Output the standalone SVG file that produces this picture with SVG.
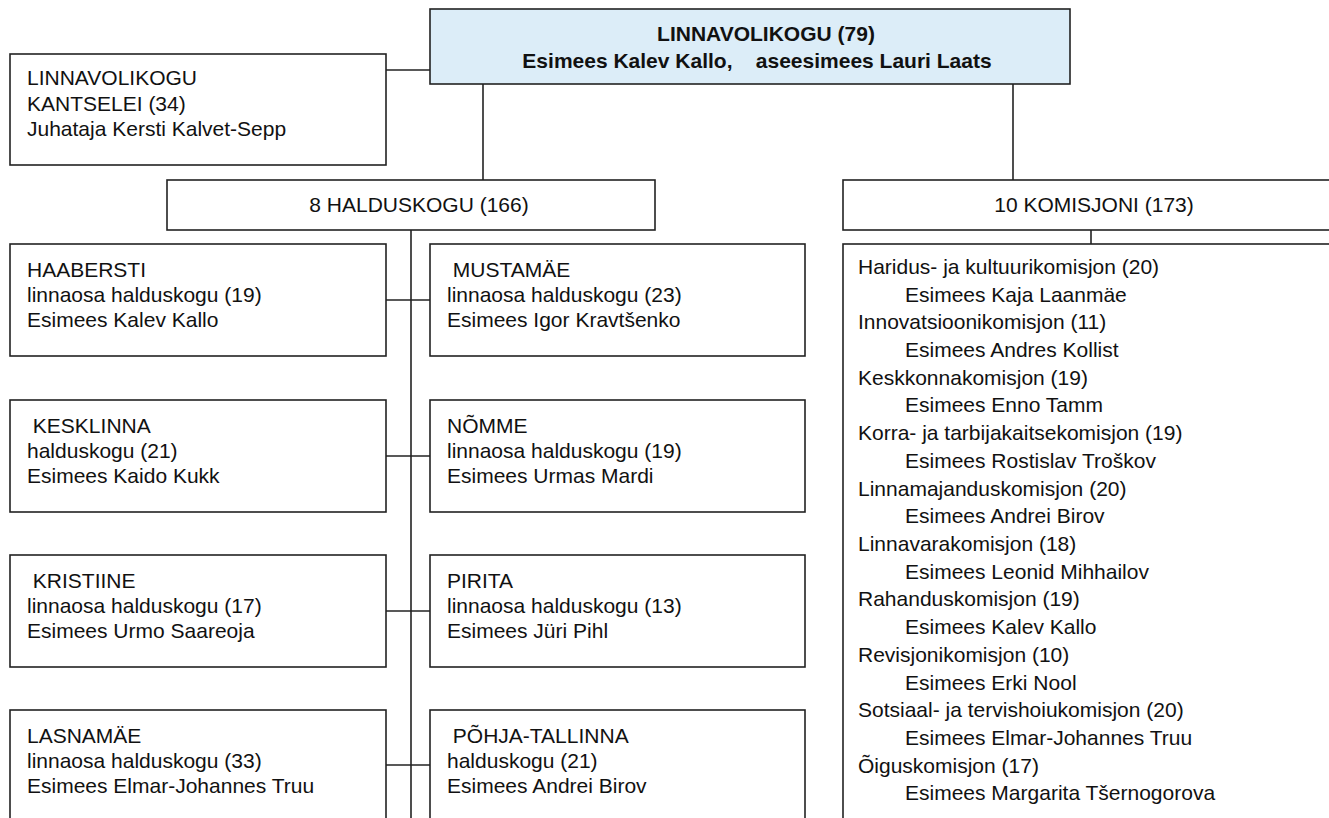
<svg xmlns="http://www.w3.org/2000/svg" width="1329" height="818" viewBox="0 0 1329 818">
<style>
.box{fill:#fff;stroke:#222;stroke-width:1.6}
.top{fill:#dcedf8;stroke:#222;stroke-width:1.6}
.ln{stroke:#222;stroke-width:1.6;fill:none}
text{font-family:"Liberation Sans",Arial,sans-serif;fill:#111;font-size:21px}
.b{font-weight:bold}
</style>
<rect width="1329" height="818" fill="#fff"/>
<g id="connectors">
<line class="ln" x1="386" y1="70" x2="430" y2="70"/>
<line class="ln" x1="483" y1="83" x2="483" y2="180"/>
<line class="ln" x1="1013" y1="83" x2="1013" y2="180"/>
<line class="ln" x1="1091" y1="230" x2="1091" y2="244"/>
<line class="ln" x1="411" y1="230" x2="411" y2="818"/>
<line class="ln" x1="386" y1="300" x2="430" y2="300"/>
<line class="ln" x1="386" y1="456" x2="430" y2="456"/>
<line class="ln" x1="386" y1="611" x2="430" y2="611"/>
<line class="ln" x1="386" y1="765" x2="430" y2="765"/>
</g>
<g id="linnavolikogu">
<rect class="top" x="430" y="9" width="640" height="75"/>
<text class="b" x="766" y="41" text-anchor="middle">LINNAVOLIKOGU (79)</text>
<text class="b" x="757" y="68" text-anchor="middle" xml:space="preserve">Esimees Kalev Kallo,    aseesimees Lauri Laats</text>
</g>
<g id="kantselei">
<rect class="box" x="10" y="54" width="376" height="111"/>
<text x="27" y="85">LINNAVOLIKOGU</text>
<text x="27" y="111">KANTSELEI (34)</text>
<text x="27" y="136">Juhataja Kersti Kalvet-Sepp</text>
</g>
<g id="halduskogu">
<rect class="box" x="167" y="180" width="488" height="50"/>
<text x="419" y="212" text-anchor="middle">8 HALDUSKOGU (166)</text>
</g>
<g id="komisjoni">
<rect class="box" x="843" y="180" width="500" height="50"/>
<text x="1094" y="212" text-anchor="middle">10 KOMISJONI (173)</text>
</g>
<g id="haabersti">
<rect class="box" x="10" y="244" width="376" height="112"/>
<text x="27" y="277">HAABERSTI</text>
<text x="27" y="302">linnaosa halduskogu (19)</text>
<text x="27" y="327">Esimees Kalev Kallo</text>
</g>
<g id="mustamae">
<rect class="box" x="430" y="244" width="375" height="112"/>
<text x="447" y="277" xml:space="preserve"> MUSTAMÄE</text>
<text x="447" y="302">linnaosa halduskogu (23)</text>
<text x="447" y="327">Esimees Igor Kravtšenko</text>
</g>
<g id="kesklinna">
<rect class="box" x="10" y="400" width="376" height="112"/>
<text x="27" y="433" xml:space="preserve"> KESKLINNA</text>
<text x="27" y="458">halduskogu (21)</text>
<text x="27" y="483">Esimees Kaido Kukk</text>
</g>
<g id="nomme">
<rect class="box" x="430" y="400" width="375" height="112"/>
<text x="447" y="433">NÕMME</text>
<text x="447" y="458">linnaosa halduskogu (19)</text>
<text x="447" y="483">Esimees Urmas Mardi</text>
</g>
<g id="kristiine">
<rect class="box" x="10" y="555" width="376" height="112"/>
<text x="27" y="588" xml:space="preserve"> KRISTIINE</text>
<text x="27" y="613">linnaosa halduskogu (17)</text>
<text x="27" y="638">Esimees Urmo Saareoja</text>
</g>
<g id="pirita">
<rect class="box" x="430" y="555" width="375" height="112"/>
<text x="447" y="588">PIRITA</text>
<text x="447" y="613">linnaosa halduskogu (13)</text>
<text x="447" y="638">Esimees Jüri Pihl</text>
</g>
<g id="lasnamae">
<rect class="box" x="10" y="710" width="376" height="112"/>
<text x="27" y="743">LASNAMÄE</text>
<text x="27" y="768">linnaosa halduskogu (33)</text>
<text x="27" y="793">Esimees Elmar-Johannes Truu</text>
</g>
<g id="pohja-tallinna">
<rect class="box" x="430" y="710" width="375" height="112"/>
<text x="447" y="743" xml:space="preserve"> PÕHJA-TALLINNA</text>
<text x="447" y="768">halduskogu (21)</text>
<text x="447" y="793">Esimees Andrei Birov</text>
</g>
<g id="komisjonid">
<rect class="box" x="843" y="244" width="500" height="590"/>
<text x="858" y="274">Haridus- ja kultuurikomisjon (20)</text>
<text x="905" y="302">Esimees Kaja Laanmäe</text>
<text x="858" y="329">Innovatsioonikomisjon (11)</text>
<text x="905" y="357">Esimees Andres Kollist</text>
<text x="858" y="385">Keskkonnakomisjon (19)</text>
<text x="905" y="412">Esimees Enno Tamm</text>
<text x="858" y="440">Korra- ja tarbijakaitsekomisjon (19)</text>
<text x="905" y="468">Esimees Rostislav Troškov</text>
<text x="858" y="496">Linnamajanduskomisjon (20)</text>
<text x="905" y="523">Esimees Andrei Birov</text>
<text x="858" y="551">Linnavarakomisjon (18)</text>
<text x="905" y="579">Esimees Leonid Mihhailov</text>
<text x="858" y="606">Rahanduskomisjon (19)</text>
<text x="905" y="634">Esimees Kalev Kallo</text>
<text x="858" y="662">Revisjonikomisjon (10)</text>
<text x="905" y="690">Esimees Erki Nool</text>
<text x="858" y="717">Sotsiaal- ja tervishoiukomisjon (20)</text>
<text x="905" y="745">Esimees Elmar-Johannes Truu</text>
<text x="858" y="773">Õiguskomisjon (17)</text>
<text x="905" y="800">Esimees Margarita Tšernogorova</text>
</g>
</svg>
